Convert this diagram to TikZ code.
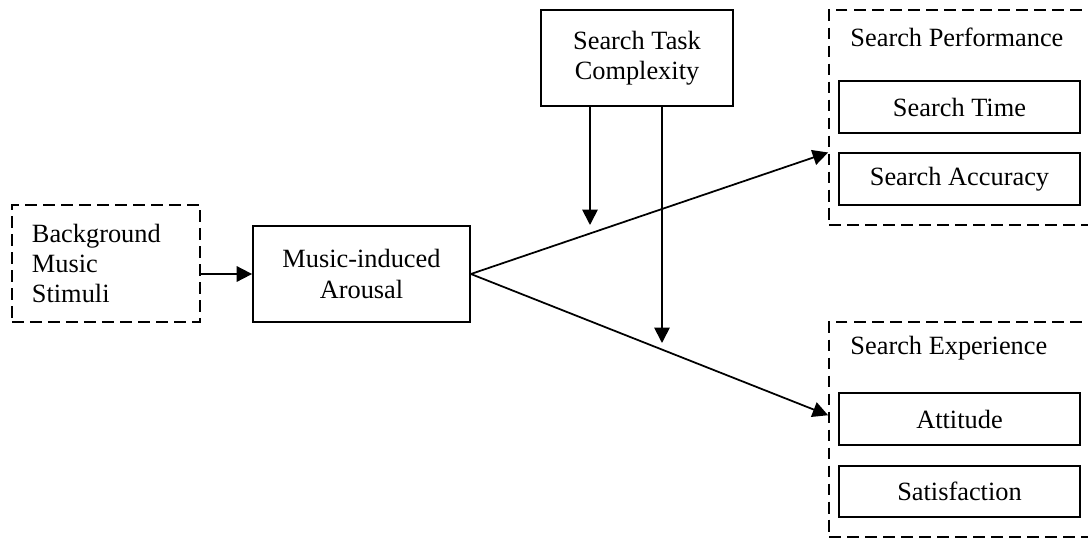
\documentclass[tikz,border=0pt]{standalone}
\usepackage{fontspec}
\setmainfont{Liberation Serif}
\usetikzlibrary{calc}
\usetikzlibrary{arrows.meta}
\tikzset{
  box/.style={draw, line width=0.8pt, minimum height=1.536cm, align=center},
  group/.style={draw, line width=0.8pt, dash pattern=on 5.4pt off 2.8pt},
  item/.style={draw, line width=0.8pt, minimum width=3.856cm, minimum height=0.82cm},
  link/.style={line width=0.8pt, -{Triangle[length=7pt,width=7pt]}}
}

\begin{document}
\begin{tikzpicture}[font=\fontsize{12}{13.7}\selectfont]
\clip (0,0) rectangle (17.408,8.608);
% input and mediator
\node[group, minimum width=3.01cm, minimum height=1.872cm, text width=2.37cm, align=left, inner sep=0pt] (bgm) at (1.696,4.392) {Background\\Music\\Stimuli};
\node[box, minimum width=3.472cm] (arousal) at (5.784,4.224) {Music-induced\\Arousal};
\node[box, minimum width=3.072cm] (cplx) at (10.192,7.68) {Search Task\\Complexity};
% outcome groups
\node[group, minimum width=4.336cm, minimum height=3.44cm] (perf) at (15.432,6.728) {};
\node[anchor=west, inner sep=0pt] (perflab) at (13.6,8.016) {Search Performance};
\node[item] (time) at (15.352,6.896) {Search Time};
\node[item] (acc) at (15.352,5.744) {Search Accuracy};
\node[group, minimum width=4.336cm, minimum height=3.44cm] (exp) at (15.432,1.736) {};
\node[anchor=west, inner sep=0pt] (explab) at (13.6,3.04) {Search Experience};
\node[item] (att) at (15.352,1.904) {Attitude};
\node[item] (sat) at (15.352,0.744) {Satisfaction};
% connectors
\coordinate (m1) at (9.44,5.008);
\coordinate (m2) at (10.592,3.12);
\draw[link] (bgm.east |- arousal) -- (arousal.west);
\draw[link] (arousal.east) -- (perf.west |- acc.north);
\draw[link] (arousal.east) -- ($(exp.west |- att)+(0,0.06)$);
\draw[link] (cplx.south -| m1) -- (m1);
\draw[link] (cplx.south -| m2) -- (m2);
\end{tikzpicture}
\end{document}
